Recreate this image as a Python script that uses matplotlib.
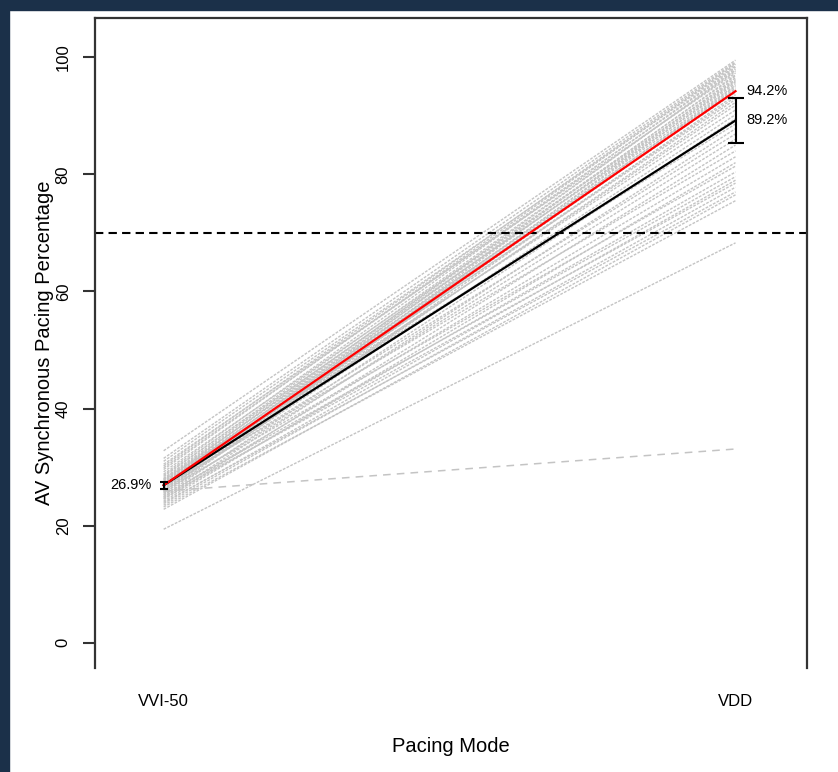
import matplotlib
matplotlib.use("Agg")
import matplotlib.pyplot as plt
from matplotlib.patches import Rectangle

plt.rcParams['font.family'] = ['Liberation Sans', 'DejaVu Sans']

modes = ["VVI-50", "VDD"]

# individual patients: % AV synchronous pacing in each mode
vvi = [32.8, 31.5, 30.2, 29.6, 31.0, 28.8, 29.9, 27.5, 28.4, 30.5,
       27.0, 28.1, 26.6, 29.2, 27.8, 26.2, 28.6, 27.3, 25.8, 26.9,
       28.0, 26.4, 27.6, 25.5, 26.8, 27.2, 25.9, 26.5,
       27.4, 26.1, 25.2, 27.9, 24.8, 26.3, 25.6, 24.5, 26.7, 25.0, 24.2,
       26.0, 24.6, 25.3, 23.8, 24.9, 23.5, 24.0, 22.8, 23.2,
       19.4]
vdd = [99.5, 99.2, 99.0, 98.8, 98.5, 98.3, 98.0, 97.8, 97.6, 97.3,
       97.0, 96.8, 96.5, 96.2, 96.0, 95.8, 95.5, 95.2, 95.0, 94.7,
       94.5, 94.2, 94.0, 93.6, 93.2, 92.8, 92.3, 91.8,
       91.0, 90.2, 89.5, 88.6, 87.8, 86.9, 86.0, 85.0, 84.0, 83.0, 82.0,
       81.4, 80.4, 79.6, 79.0, 78.5, 77.8, 77.0, 76.5, 75.5,
       68.3]
# one patient drawn with a long dash
outlier = [25.9, 33.1]

mean_vals = [26.9, 89.2]
mean_err = [0.55, 3.8]
red_vals = [26.9, 94.2]
threshold = 70

fig = plt.figure(figsize=(8.38, 7.72), dpi=100)
ax = fig.add_axes([0.1134, 0.1347, 0.8496, 0.842])

x = [1, 2]
for a, b in zip(vvi, vdd):
    ax.plot(x, [a, b], color="#c4c4c4", lw=1.0, ls=(0, (2, 1)), zorder=1)
ax.plot(x, outlier, color="#c4c4c4", lw=1.1, ls=(0, (5, 4)), zorder=1)

ax.axhline(threshold, color="black", lw=1.5, ls=(0, (4, 2.5)), zorder=2)

ax.plot(x, mean_vals, color="black", lw=1.6, zorder=3)
ax.plot(x, red_vals, color="red", lw=1.6, zorder=4)

ax.errorbar([1], [mean_vals[0]], yerr=[mean_err[0]], color="black",
            lw=1.5, capsize=3, capthick=1.5, zorder=5)
ax.errorbar([2], [mean_vals[1]], yerr=[mean_err[1]], color="black",
            lw=1.5, capsize=5.5, capthick=1.5, zorder=5)

ax.annotate("%.1f%%" % mean_vals[0], (1, mean_vals[0]), xytext=(-9, 0),
            textcoords="offset points", ha="right", va="center", fontsize=10.5)
ax.annotate("%.1f%%" % red_vals[1], (2, red_vals[1]), xytext=(8, 0),
            textcoords="offset points", ha="left", va="center", fontsize=10.5)
ax.annotate("%.1f%%" % mean_vals[1], (2, mean_vals[1]), xytext=(8, 0),
            textcoords="offset points", ha="left", va="center", fontsize=10.5)

ax.set_xlim(0.88, 2.125)
ax.set_ylim(-4.3, 106.7)
ax.set_xticks(x)
ax.set_xticklabels(modes)
ax.set_yticks([0, 20, 40, 60, 80, 100])
ax.tick_params(axis="x", length=0, pad=19, labelsize=12)
ax.tick_params(axis="y", length=8.5, width=1.5, color="#333333", pad=9,
               labelsize=12)
for lab in ax.get_yticklabels():
    lab.set_rotation(90)
    lab.set_va("center")

ax.set_xlabel("Pacing Mode", fontsize=14.5, labelpad=20)
ax.set_ylabel("AV Synchronous Pacing Percentage", fontsize=14.5, labelpad=1.5)

ax.spines["bottom"].set_visible(False)
for s in ["left", "top", "right"]:
    ax.spines[s].set_linewidth(1.6)
    ax.spines[s].set_color("#333333")

# dark frame on the left and top edge of the screenshot
fig.patches.append(Rectangle((0, 0), 9 / 838, 1, transform=fig.transFigure,
                             color="#1b3049", zorder=-1))
fig.patches.append(Rectangle((0, 1 - 10 / 772), 1, 10 / 772,
                             transform=fig.transFigure, color="#1b3049",
                             zorder=-1))

fig.savefig("out.png", dpi=100)
